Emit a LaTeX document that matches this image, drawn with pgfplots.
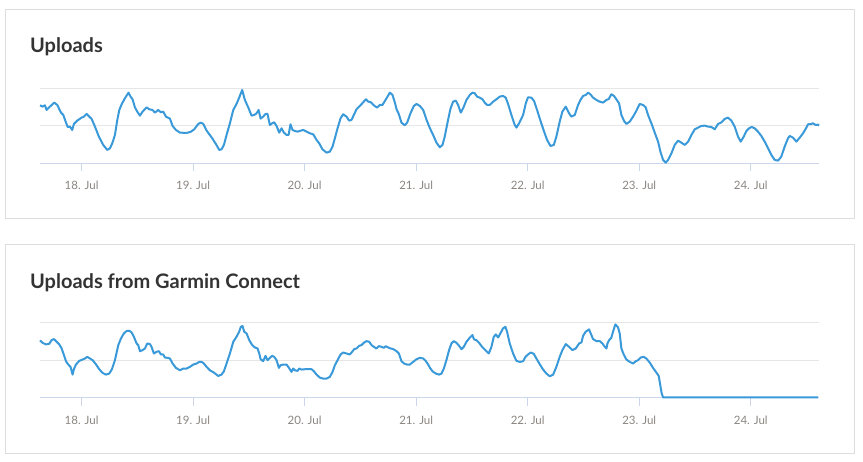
\documentclass[border=0pt]{standalone}
\usepackage{pgfplots}
\usepackage{pgfplotstable}
\pgfplotsset{compat=1.18}
\usepackage{fontspec}
\setmainfont{Lato}

\definecolor{upline}{HTML}{3A9AD9}
\definecolor{gridc}{HTML}{E6E6E6}
\definecolor{axisc}{HTML}{CCD6EB}
\definecolor{tickc}{HTML}{8A8580}
\definecolor{titlec}{HTML}{333333}
\definecolor{framec}{HTML}{DDDDDD}

% day, value (grid lines at 0, 1, 2)
\pgfplotstableread{
day v
17.627 1.547
17.650 1.511
17.671 1.547
17.686 1.422
17.716 1.511
17.755 1.618
17.782 1.556
17.815 1.351
17.836 1.289
17.857 1.111
17.875 0.969
17.895 0.978
17.916 0.889
17.931 1.049
17.961 1.138
18.000 1.218
18.021 1.244
18.045 1.316
18.069 1.244
18.090 1.182
18.120 0.978
18.155 0.711
18.194 0.489
18.230 0.356
18.254 0.400
18.275 0.533
18.299 0.756
18.320 1.156
18.338 1.422
18.359 1.573
18.388 1.733
18.421 1.884
18.439 1.778
18.457 1.707
18.478 1.493
18.499 1.378
18.523 1.271
18.547 1.378
18.583 1.493
18.607 1.440
18.636 1.422
18.657 1.351
18.687 1.422
18.711 1.360
18.732 1.378
18.756 1.244
18.792 1.191
18.816 0.996
18.846 0.889
18.881 0.818
18.941 0.809
18.977 0.836
19.010 0.907
19.046 1.049
19.070 1.084
19.091 1.049
19.121 0.871
19.165 0.693
19.204 0.516
19.234 0.356
19.255 0.373
19.276 0.489
19.300 0.756
19.330 1.067
19.360 1.422
19.389 1.582
19.413 1.751
19.440 1.956
19.464 1.689
19.494 1.493
19.524 1.271
19.548 1.289
19.569 1.333
19.587 1.422
19.605 1.191
19.628 1.244
19.649 1.316
19.667 1.316
19.688 1.022
19.709 1.067
19.727 1.093
19.748 0.996
19.772 0.818
19.793 0.933
19.814 0.818
19.838 0.756
19.856 0.756
19.873 1.040
19.891 0.889
19.912 0.862
19.936 0.844
19.966 0.871
19.987 0.889
20.017 0.844
20.047 0.800
20.077 0.773
20.107 0.622
20.130 0.533
20.160 0.373
20.196 0.284
20.226 0.311
20.250 0.444
20.271 0.667
20.295 0.933
20.322 1.200
20.346 1.307
20.375 1.244
20.399 1.138
20.420 1.156
20.444 1.307
20.465 1.440
20.495 1.529
20.525 1.627
20.549 1.707
20.570 1.644
20.594 1.627
20.620 1.547
20.650 1.484
20.674 1.556
20.698 1.556
20.725 1.689
20.743 1.778
20.764 1.884
20.788 1.822
20.809 1.618
20.824 1.440
20.845 1.307
20.868 1.084
20.898 1.013
20.919 1.084
20.949 1.333
20.979 1.529
21.003 1.582
21.033 1.529
21.063 1.422
21.093 1.156
21.122 0.942
21.152 0.756
21.182 0.551
21.212 0.427
21.236 0.489
21.256 0.711
21.286 1.156
21.307 1.449
21.331 1.644
21.355 1.671
21.376 1.556
21.400 1.351
21.421 1.467
21.451 1.689
21.481 1.822
21.504 1.884
21.525 1.867
21.546 1.778
21.570 1.751
21.594 1.707
21.615 1.618
21.636 1.556
21.660 1.556
21.690 1.644
21.720 1.707
21.749 1.778
21.779 1.796
21.803 1.751
21.824 1.582
21.854 1.289
21.884 1.022
21.899 0.951
21.923 1.067
21.959 1.289
21.983 1.600
22.003 1.760
22.033 1.751
22.057 1.662
22.084 1.422
22.117 1.111
22.147 0.844
22.174 0.622
22.204 0.462
22.234 0.489
22.257 0.711
22.287 1.111
22.311 1.378
22.341 1.511
22.371 1.333
22.392 1.244
22.422 1.289
22.452 1.556
22.473 1.689
22.497 1.796
22.520 1.822
22.541 1.884
22.562 1.840
22.586 1.751
22.616 1.689
22.646 1.644
22.676 1.618
22.706 1.689
22.727 1.716
22.750 1.840
22.774 1.796
22.795 1.707
22.819 1.600
22.840 1.289
22.864 1.129
22.885 1.049
22.915 1.111
22.945 1.244
22.975 1.404
23.004 1.582
23.034 1.556
23.058 1.493
23.079 1.289
23.109 1.067
23.139 0.818
23.169 0.578
23.190 0.311
23.214 0.089
23.238 0.018
23.259 0.089
23.289 0.267
23.318 0.489
23.348 0.604
23.378 0.551
23.408 0.489
23.438 0.578
23.468 0.756
23.498 0.907
23.527 0.951
23.557 0.996
23.587 1.004
23.617 0.978
23.647 0.969
23.677 0.907
23.707 1.049
23.737 1.093
23.766 1.182
23.796 1.218
23.826 1.138
23.856 0.978
23.886 0.711
23.910 0.578
23.937 0.711
23.961 0.862
23.985 0.933
24.009 0.969
24.035 0.933
24.065 0.844
24.095 0.729
24.125 0.578
24.155 0.400
24.185 0.222
24.215 0.089
24.245 0.071
24.274 0.178
24.304 0.444
24.334 0.667
24.349 0.729
24.379 0.684
24.409 0.578
24.439 0.684
24.469 0.800
24.499 0.951
24.514 1.040
24.543 1.049
24.558 1.067
24.582 1.022
24.603 1.031
24.612 1.004
}\uploads

\pgfplotstableread{
day v
17.627 1.527
17.650 1.464
17.680 1.420
17.710 1.438
17.731 1.536
17.752 1.563
17.776 1.491
17.800 1.420
17.821 1.313
17.842 1.134
17.860 0.973
17.880 0.884
17.901 0.821
17.919 0.616
17.931 0.759
17.949 0.884
17.979 0.982
18.009 1.018
18.030 1.045
18.051 1.089
18.075 1.045
18.099 1.000
18.128 0.893
18.158 0.759
18.188 0.661
18.218 0.616
18.248 0.643
18.272 0.759
18.299 1.000
18.329 1.402
18.353 1.580
18.379 1.714
18.403 1.777
18.427 1.786
18.448 1.741
18.469 1.625
18.493 1.446
18.508 1.402
18.523 1.241
18.547 1.268
18.568 1.313
18.589 1.446
18.613 1.429
18.627 1.357
18.648 1.179
18.672 1.223
18.693 1.241
18.711 1.152
18.732 1.152
18.747 1.071
18.771 1.063
18.792 1.045
18.816 0.911
18.846 0.795
18.881 0.732
18.911 0.777
18.941 0.777
18.971 0.821
19.001 0.884
19.031 0.911
19.055 0.955
19.076 0.955
19.097 0.911
19.121 0.821
19.150 0.732
19.186 0.670
19.225 0.580
19.255 0.616
19.276 0.705
19.300 0.911
19.330 1.179
19.360 1.491
19.389 1.625
19.413 1.759
19.428 1.893
19.443 1.911
19.458 1.759
19.479 1.714
19.503 1.536
19.530 1.402
19.554 1.339
19.578 1.313
19.593 1.179
19.605 1.027
19.628 0.973
19.649 1.116
19.667 1.000
19.688 1.063
19.709 1.116
19.727 1.089
19.748 1.000
19.769 0.795
19.784 0.866
19.808 0.884
19.838 0.884
19.853 0.821
19.867 0.759
19.882 0.688
19.897 0.777
19.912 0.732
19.936 0.714
19.951 0.777
19.972 0.750
20.002 0.759
20.032 0.759
20.062 0.759
20.083 0.705
20.107 0.616
20.136 0.536
20.166 0.509
20.196 0.509
20.226 0.554
20.250 0.688
20.271 0.866
20.295 1.000
20.322 1.152
20.346 1.205
20.375 1.179
20.405 1.152
20.426 1.223
20.444 1.295
20.465 1.313
20.489 1.384
20.510 1.402
20.534 1.473
20.555 1.509
20.579 1.491
20.600 1.402
20.620 1.357
20.644 1.313
20.665 1.375
20.689 1.357
20.710 1.330
20.728 1.375
20.749 1.339
20.770 1.313
20.794 1.295
20.824 1.241
20.845 1.179
20.868 0.973
20.892 0.911
20.919 0.884
20.943 0.884
20.973 0.955
21.003 1.027
21.033 1.063
21.063 1.045
21.087 0.973
21.108 0.884
21.122 0.804
21.146 0.705
21.176 0.643
21.206 0.616
21.227 0.643
21.248 0.777
21.271 1.000
21.295 1.268
21.316 1.446
21.337 1.509
21.361 1.464
21.385 1.384
21.406 1.295
21.427 1.357
21.451 1.491
21.475 1.580
21.504 1.670
21.519 1.554
21.540 1.536
21.564 1.464
21.591 1.357
21.621 1.268
21.651 1.179
21.675 1.357
21.696 1.625
21.714 1.688
21.735 1.607
21.755 1.714
21.779 1.848
21.800 1.893
21.815 1.759
21.839 1.446
21.869 1.179
21.899 0.982
21.929 0.955
21.959 0.973
21.980 1.089
22.003 1.152
22.027 1.205
22.054 1.170
22.078 1.045
22.108 0.893
22.138 0.750
22.168 0.643
22.198 0.571
22.228 0.616
22.257 0.821
22.287 1.089
22.311 1.268
22.341 1.429
22.371 1.357
22.401 1.268
22.431 1.313
22.461 1.446
22.482 1.473
22.497 1.652
22.520 1.759
22.550 1.821
22.565 1.714
22.586 1.563
22.616 1.509
22.646 1.509
22.670 1.446
22.691 1.357
22.706 1.313
22.715 1.446
22.730 1.536
22.750 1.598
22.765 1.759
22.786 1.955
22.810 1.875
22.825 1.714
22.840 1.313
22.861 1.152
22.885 1.018
22.915 0.955
22.945 0.911
22.969 0.973
22.990 1.000
23.013 1.071
23.040 1.089
23.064 1.045
23.094 0.938
23.124 0.795
23.154 0.670
23.175 0.580
23.190 0.313
23.202 0.107
23.214 0.010
23.244 0.010
24.603 0.010
}\garmin

\pgfplotsset{
  panel/.style={
    scale only axis, width=779pt, height=75pt,
    anchor=south west,
    xmin=17.627, xmax=24.612, ymin=0, ymax=2,
    axis x line*=bottom, axis y line*=left,
    x axis line style={draw=axisc, line width=1pt, -},
    y axis line style={draw=none},
    xtick={18,19,20,21,22,23,24},
    xticklabels={18. Jul,19. Jul,20. Jul,21. Jul,22. Jul,23. Jul,24. Jul},
    xtick style={draw=axisc, line width=0.8pt},
    tick align=outside, major tick length=8pt,
    xticklabel style={font=\fontsize{11.5}{13}\selectfont, text=tickc, anchor=base, yshift=-18.4pt},
    ytick={0,1,2}, yticklabels={}, ymajorgrids,
    ytick style={draw=none},
    major grid style={draw=gridc, line width=0.8pt},
    clip=false,
  },
}

\begin{document}
\begin{tikzpicture}
\useasboundingbox (0pt,0pt) rectangle (863pt,462pt);
\draw[framec, line width=1pt] (5.5pt,243pt) rectangle (854pt,452.5pt);
\draw[framec, line width=1pt] (5.5pt,8.3pt) rectangle (854pt,217.3pt);
\node[anchor=base west, inner sep=0pt, text=titlec, font=\fontsize{20}{22}\selectfont\bfseries] at (30pt,409pt) {Uploads};
\node[anchor=base west, inner sep=0pt, text=titlec, font=\fontsize{20}{22}\selectfont\bfseries] at (30pt,173.3pt) {Uploads from Garmin Connect};

\begin{axis}[panel, at={(40pt,298.7pt)}]
\addplot[upline, line width=2pt, line join=round] table[x=day, y=v] {\uploads};
\end{axis}

\begin{axis}[panel, at={(40pt,64.3pt)}]
\addplot[upline, line width=2pt, line join=round] table[x=day, y=v] {\garmin};
\end{axis}
\end{tikzpicture}
\end{document}
